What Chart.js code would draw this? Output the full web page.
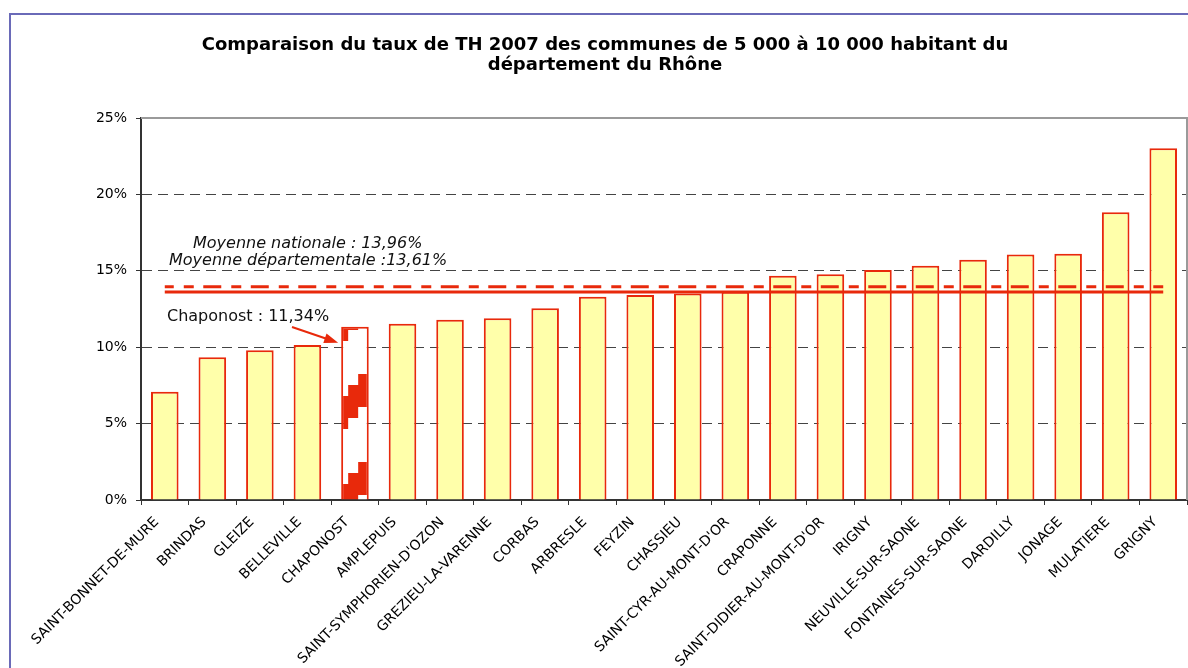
<!DOCTYPE html>
<html><head><meta charset="utf-8">
<script src="https://cdn.jsdelivr.net/npm/chart.js@4.4.0/dist/chart.umd.min.js"></script>
<style>
html,body{margin:0;padding:0;background:#fff;}
#wrap{position:relative;width:1188px;height:668px;overflow:hidden;}
#frame{position:absolute;left:9px;top:13px;width:1300px;height:800px;border:2px solid #6a6ab8;box-sizing:border-box;}
canvas{position:absolute;left:0;top:0;}
</style></head><body>
<div id="wrap"><div id="frame"></div><canvas id="c" width="1188" height="668"></canvas></div>
<script>
const categories = ['SAINT-BONNET-DE-MURE','BRINDAS','GLEIZE','BELLEVILLE','CHAPONOST','AMPLEPUIS',"SAINT-SYMPHORIEN-D'OZON",'GREZIEU-LA-VARENNE','CORBAS','ARBRESLE','FEYZIN','CHASSIEU',"SAINT-CYR-AU-MONT-D'OR",'CRAPONNE',"SAINT-DIDIER-AU-MONT-D'OR",'IRIGNY','NEUVILLE-SUR-SAONE','FONTAINES-SUR-SAONE','DARDILLY','JONAGE','MULATIERE','GRIGNY'];
const tauxTH = [7.08, 9.35, 9.80, 10.14, 11.34, 11.53, 11.80, 11.89, 12.55, 13.30, 13.42, 13.52, 13.63, 14.68, 14.77, 15.05, 15.33, 15.72, 16.06, 16.12, 18.83, 23.02];
const moyenneNationale = 13.96;
const moyenneDepartementale = 13.61;
const highlighted = 'CHAPONOST';
const yTicks = [0, 5, 10, 15, 20, 25];
const titleLines = ['Comparaison du taux de TH 2007 des communes de 5 000 à 10 000 habitant du', 'département du Rhône'];
const labelNational = 'Moyenne nationale : 13,96%';
const labelDept = 'Moyenne départementale :13,61%';
const labelChaponost = 'Chaponost : 11,34%';

const RED = '#E8290B';
const FILL = '#FFFFAA';

const pattern = (() => {
  const c = document.createElement('canvas'); c.width = 28; c.height = 88;
  const g = c.getContext('2d');
  g.fillStyle = '#fff'; g.fillRect(0, 0, 28, 88);
  g.fillStyle = RED;
  g.fillRect(0, 22, 7, 33); g.fillRect(7, 11, 10, 33); g.fillRect(17, 0, 11, 33);
  return g.createPattern(c, 'repeat-y');
})();

const hiIndex = categories.indexOf(highlighted);

const decor = {
  id: 'decor',
  beforeDatasetsDraw(chart) {
    const el = chart.getDatasetMeta(2).data[hiIndex];
    const base = chart.scales.y.getPixelForValue(0);
    pattern.setTransform(new DOMMatrix([1, 0, 0, 1, el.x - el.width / 2, base - 38]));
  },
  afterDatasetsDraw(chart) {
    const ctx = chart.ctx, a = chart.chartArea;
    ctx.save();
    ctx.strokeStyle = '#9a9a9a'; ctx.lineWidth = 2;
    ctx.beginPath(); ctx.moveTo(a.left, a.top); ctx.lineTo(a.right, a.top); ctx.lineTo(a.right, a.bottom); ctx.stroke();
    ctx.fillStyle = '#111';
    ctx.textBaseline = 'alphabetic';
    ctx.textAlign = 'left';
    ctx.font = 'italic 16px "DejaVu Sans"';
    ctx.fillText(labelNational, 193, 248);
    ctx.fillText(labelDept, 169, 265);
    ctx.font = '16px "DejaVu Sans"';
    ctx.fillText(labelChaponost, 167, 321);
    const el = chart.getDatasetMeta(2).data[hiIndex];
    const tx = el.x - el.width / 2 - 3, ty = chart.scales.y.getPixelForValue(tauxTH[hiIndex]) + 16;
    const sx = 292, sy = 327;
    const ang = Math.atan2(ty - sy, tx - sx);
    ctx.strokeStyle = RED; ctx.fillStyle = RED; ctx.lineWidth = 2;
    ctx.beginPath(); ctx.moveTo(sx, sy); ctx.lineTo(tx - 10 * Math.cos(ang), ty - 10 * Math.sin(ang)); ctx.stroke();
    ctx.beginPath();
    ctx.moveTo(tx, ty);
    ctx.lineTo(tx - 14 * Math.cos(ang) + 5 * Math.sin(ang), ty - 14 * Math.sin(ang) - 5 * Math.cos(ang));
    ctx.lineTo(tx - 14 * Math.cos(ang) - 5 * Math.sin(ang), ty - 14 * Math.sin(ang) + 5 * Math.cos(ang));
    ctx.closePath(); ctx.fill();
    ctx.restore();
  }
};

const first = categories[0], last = categories[categories.length - 1];

new Chart(document.getElementById('c'), {
  type: 'bar',
  data: {
    labels: categories,
    datasets: [
      {
        type: 'line', label: 'Moyenne nationale',
        data: [{x: first, y: moyenneNationale}, {x: last, y: moyenneNationale}],
        borderColor: RED, borderWidth: 3, borderDash: [18, 10, 10, 9.5], borderDashOffset: 9,
        pointRadius: 0, fill: false, order: 0
      },
      {
        type: 'line', label: 'Moyenne départementale',
        data: [{x: first, y: moyenneDepartementale}, {x: last, y: moyenneDepartementale}],
        borderColor: RED, borderWidth: 3, pointRadius: 0, fill: false, order: 0
      },
      {
        type: 'bar', label: 'Taux TH 2007',
        data: tauxTH,
        backgroundColor: (c) => c.dataIndex === hiIndex ? pattern : FILL,
        borderColor: RED, borderWidth: 2,
        categoryPercentage: 1, barPercentage: 0.58, order: 1
      }
    ]
  },
  options: {
    responsive: false, animation: false, events: [],
    devicePixelRatio: 1,
    layout: { padding: { left: 23, right: 1, top: 0, bottom: 0 } },
    plugins: {
      legend: { display: false },
      tooltip: { enabled: false },
      title: {
        display: true, text: titleLines, color: '#000',
        font: { family: '"DejaVu Sans"', size: 18, weight: 'bold', lineHeight: '20px' },
        padding: { top: 35, bottom: 43 }
      }
    },
    scales: {
      x: {
        offset: true,
        grid: { display: true, drawOnChartArea: false, drawTicks: true, tickLength: 5, offset: true, color: '#333', tickColor: '#333' },
        border: { display: true, color: '#333', width: 2 },
        ticks: { autoSkip: false, minRotation: 45, maxRotation: 45, padding: 9, labelOffset: -8, color: '#000', font: { family: '"DejaVu Sans"', size: 14 } },
        afterFit: (s) => { s.height = 168; }
      },
      y: {
        min: 0, max: 25,
        afterBuildTicks: (s) => { s.ticks = yTicks.map(v => ({value: v})); },
        grid: { color: '#444', lineWidth: 1, drawTicks: true, tickLength: 5, tickColor: '#333', tickBorderDash: [] },
        border: { display: true, color: '#333', width: 2, dash: [10, 6] },
        ticks: { padding: 9, color: '#000', font: { family: '"DejaVu Sans"', size: 14 }, callback: (v) => v + '%' },
        afterFit: (s) => { s.width = 118; }
      }
    }
  },
  plugins: [decor]
});
</script>
</body></html>
